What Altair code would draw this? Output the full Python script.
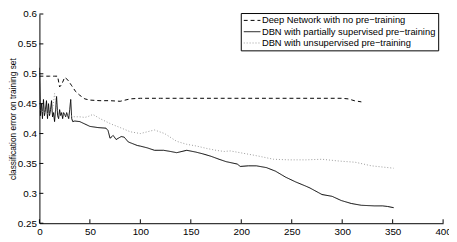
import altair as alt
import pandas as pd

# ---- data ----
series_names = [
    "Deep Network with no pre\u2212training",
    "DBN with partially supervised pre\u2212training",
    "DBN with unsupervised pre\u2212training",
]

dash_x = [0, 5, 10, 15, 18, 20, 22, 25, 28, 32, 36, 40, 45, 50, 60, 70, 80, 90, 100, 120,
          140, 160, 180, 200, 220, 240, 260, 280, 300, 306, 312, 319]
dash_y = [0.496, 0.496, 0.496, 0.496, 0.496, 0.478, 0.482, 0.494, 0.490, 0.480, 0.470, 0.464,
          0.458, 0.456, 0.455, 0.455, 0.454, 0.458, 0.459, 0.459, 0.459, 0.459, 0.459, 0.459,
          0.459, 0.459, 0.459, 0.459, 0.459, 0.458, 0.455, 0.453]

solid_x = [0, 1, 2, 3, 4, 5, 6, 7, 8, 9, 10, 11, 12, 13, 14, 15, 16, 17, 18, 19, 20, 21, 22,
           23, 24, 25, 26, 27, 28, 29, 30, 31, 32, 33, 35, 40, 45, 50, 58, 66, 68, 70, 73, 76,
           81, 84, 88, 91, 97, 100, 107, 114, 123, 130, 136, 146, 155, 162, 170, 178, 185, 196,
           199, 207, 215, 225, 234, 244, 254, 264, 268, 280, 290, 299, 309, 319, 332, 340, 345,
           351]
solid_y = [0.510, 0.430, 0.450, 0.425, 0.457, 0.430, 0.440, 0.455, 0.425, 0.450, 0.430, 0.440,
           0.455, 0.428, 0.435, 0.420, 0.440, 0.462, 0.430, 0.425, 0.440, 0.430, 0.435, 0.425,
           0.435, 0.432, 0.428, 0.435, 0.430, 0.425, 0.440, 0.457, 0.425, 0.420, 0.421, 0.420,
           0.416, 0.412, 0.410, 0.409, 0.405, 0.392, 0.397, 0.390, 0.395, 0.394, 0.386, 0.384,
           0.380, 0.379, 0.376, 0.372, 0.372, 0.370, 0.368, 0.372, 0.369, 0.366, 0.362, 0.357,
           0.353, 0.349, 0.345, 0.346, 0.346, 0.343, 0.337, 0.327, 0.319, 0.312, 0.309, 0.298,
           0.295, 0.288, 0.283, 0.280, 0.279, 0.279, 0.278, 0.276]

dot_x = [0, 5, 10, 13, 15, 17, 20, 24, 30, 35, 40, 45, 49, 53, 60, 71, 80, 90, 100, 107,
         114, 124, 136, 146, 156, 166, 175, 183, 189, 202, 215, 232, 248, 264, 280, 297,
         313, 329, 340, 351]
dot_y = [0.440, 0.435, 0.432, 0.440, 0.467, 0.440, 0.430, 0.432, 0.430, 0.428, 0.428, 0.427,
         0.429, 0.432, 0.425, 0.416, 0.410, 0.403, 0.400, 0.403, 0.406, 0.400, 0.387, 0.382,
         0.379, 0.375, 0.372, 0.370, 0.371, 0.367, 0.363, 0.357, 0.356, 0.356, 0.357, 0.354,
         0.352, 0.346, 0.344, 0.342]

x_ticks = [0, 50, 100, 150, 200, 250, 300, 350, 400]
y_ticks = [0.25, 0.3, 0.35, 0.4, 0.45, 0.5, 0.55, 0.6]

# ---- build table ----
frames = []
for name, xs, ys in [(series_names[0], dash_x, dash_y),
                     (series_names[1], solid_x, solid_y),
                     (series_names[2], dot_x, dot_y)]:
    frames.append(pd.DataFrame({"epoch": xs, "err": ys, "series": name}))
df = pd.concat(frames, ignore_index=True)

W, H = 411, 213
FONT = "Liberation Sans"

xscale = alt.Scale(domain=[0, 400], nice=False, zero=False)
yscale = alt.Scale(domain=[0.25, 0.6], nice=False, zero=False)

xaxis = alt.Axis(values=x_ticks, title=None, tickSize=0, labelPadding=3,
                 grid=False, domainColor="black", labelColor="black",
                 labelFontSize=10, labelFont=FONT, labelFlush=False)
yaxis = alt.Axis(values=y_ticks, format="~g", tickSize=0, labelPadding=3,
                 grid=False, domainColor="black", labelColor="black",
                 labelFontSize=10, labelFont=FONT, labelFlush=False,
                 title="classification error on training set",
                 titleFontSize=8.5, titleFont=FONT, titleFontWeight="normal",
                 titleColor="black", titleAngle=-90, titleX=-27, titleY=H / 2,
                 titleAlign="center", titleBaseline="middle")

lines = alt.Chart(df).mark_line(strokeWidth=1, clip=True).encode(
    x=alt.X("epoch:Q", scale=xscale, axis=xaxis),
    y=alt.Y("err:Q", scale=yscale, axis=yaxis),
    color=alt.Color("series:N",
                    scale=alt.Scale(domain=series_names, range=["black", "black", "#9a9a9a"]),
                    legend=alt.Legend(title=None)),
    strokeDash=alt.StrokeDash("series:N",
                              scale=alt.Scale(domain=series_names,
                                              range=[[4, 3], [1, 0], [1, 2]]),
                              legend=alt.Legend(title=None)),
    order="epoch:Q",
)

ytick_df = pd.DataFrame({"err": y_ticks})
xtick_df = pd.DataFrame({"epoch": x_ticks})

yt = alt.Chart(ytick_df).mark_rule(color="black", strokeWidth=1).encode(
    y=alt.Y("err:Q", scale=yscale, axis=yaxis),
    x=alt.value(0), x2=alt.value(4))
xt = alt.Chart(xtick_df).mark_rule(color="black", strokeWidth=1).encode(
    x=alt.X("epoch:Q", scale=xscale, axis=xaxis),
    y=alt.value(H), y2=alt.value(H - 4))

chart = alt.layer(lines, yt, xt).properties(
    width=W, height=H,
    autosize=alt.AutoSizeParams(type="none"),
    padding={"left": 32, "top": 4, "right": 6, "bottom": 17},
    background="white",
).configure_view(stroke=None).configure_legend(
    orient="none", legendX=205, legendY=-1,
    strokeColor="black", fillColor="white", padding=2.5,
    symbolType="stroke", symbolSize=289, symbolStrokeWidth=1,
    labelFontSize=9.5, labelFont=FONT, labelColor="black", labelOffset=1,
    clipHeight=10, rowPadding=1.5, labelLimit=300,
)

chart.save("out.html", embed_options={"renderer": "svg", "actions": False})
